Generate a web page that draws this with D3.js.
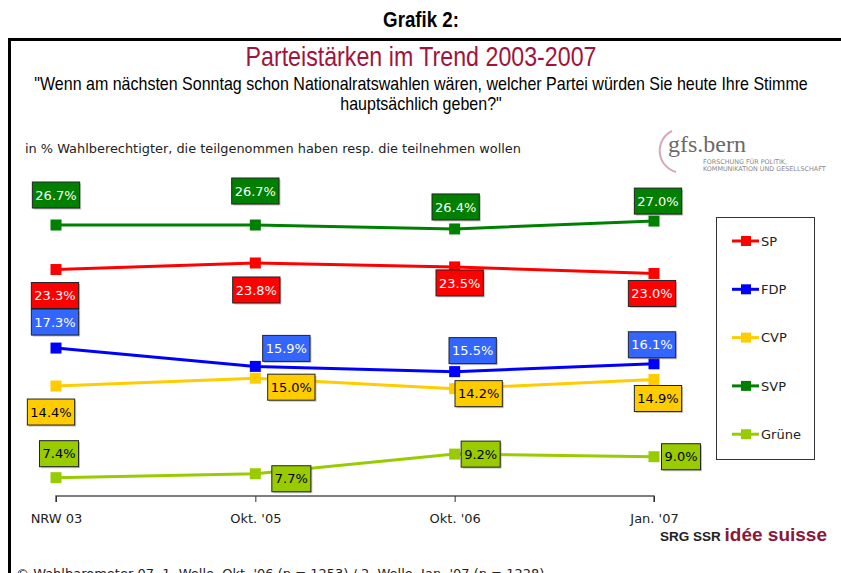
<!DOCTYPE html>
<html>
<head>
<meta charset="utf-8">
<script src="https://cdn.jsdelivr.net/npm/d3@7"></script>
<style>
  body { margin: 0; background: #fff; }
  svg { display: block; }
</style>
</head>
<body>
<div id="chart"></div>
<script>
var svgWidth = 841;
var svgHeight = 573;

// Data
var waves = ["NRW 03", "Okt. '05", "Okt. '06", "Jan. '07"];
var parties = ["SP", "FDP", "CVP", "SVP", "Grüne"];
var sp = [23.3, 23.8, 23.5, 23.0];
var fdp = [17.3, 15.9, 15.5, 16.1];
var cvp = [14.4, 15.0, 14.2, 14.9];
var svp = [26.7, 26.7, 26.4, 27.0];
var gruene = [7.4, 7.7, 9.2, 9.0];

var lineColors = ["#ff0000", "#0000ff", "#ffcc00", "#008000", "#99cc00"];
var boxColors = ["#ff0000", "#3366ff", "#ffcc00", "#007f00", "#99cc00"];
var textColors = ["#fff", "#fff", "#000", "#fff", "#000"];

// label offsets from each point (px)
var labelOffsets = [
  [[-1, 26], [1, 27], [5, 16], [-2, 20]],
  [[-1, -26], [31, -18], [18, -21], [-2, -19]],
  [[-5, 26], [36, 9], [24, 5], [4, 19]],
  [[0, -30], [0, -34], [1, -22], [4, -20]],
  [[3, -24], [36, 5], [26, 0], [27, 0]]
];

var series = [sp, fdp, cvp, svp, gruene].map(function(vals, i) {
  return { name: parties[i], values: vals, i: i };
});

var svg = d3.select("#chart")
  .append("svg")
  .attr("width", svgWidth)
  .attr("height", svgHeight);

// frame
svg.append("path")
  .attr("d", "M9.5,580 V39.5 H850")
  .attr("fill", "none")
  .attr("stroke", "#000")
  .attr("stroke-width", 3);

// narrow-ish headings: compress horizontally
svg.append("text")
  .attr("transform", "translate(421,27) scale(0.85,1)")
  .attr("text-anchor", "middle")
  .style("font-family", "'Liberation Sans', Arial")
  .style("font-weight", "bold")
  .style("font-size", "22px")
  .text("Grafik 2:");

svg.append("text")
  .attr("transform", "translate(421,66) scale(0.86,1)")
  .attr("text-anchor", "middle")
  .style("font-family", "'Liberation Sans', Arial")
  .style("font-size", "27px")
  .attr("fill", "#a0143c")
  .text("Parteistärken im Trend 2003-2007");

var sub = svg.append("text")
  .attr("transform", "translate(421,0) scale(0.9,1)")
  .attr("text-anchor", "middle")
  .style("font-family", "'Liberation Sans', Arial")
  .style("font-size", "17.8px");
sub.append("tspan").attr("x", 0).attr("y", 90)
  .text("\"Wenn am nächsten Sonntag schon Nationalratswahlen wären, welcher Partei würden Sie heute Ihre Stimme");
sub.append("tspan").attr("x", 0).attr("y", 110)
  .text("hauptsächlich geben?\"");

svg.append("text")
  .attr("x", 25).attr("y", 153)
  .style("font-family", "'DejaVu Sans', Verdana")
  .style("font-size", "12.9px")
  .attr("fill", "#222")
  .text("in % Wahlberechtigter, die teilgenommen haben resp. die teilnehmen wollen");

// gfs.bern logo
var logo = svg.append("g");
logo.append("path")
  .attr("d", "M672,131 A22,22 0 0 0 676,172")
  .attr("fill", "none")
  .attr("stroke", "#d8a8b8")
  .attr("stroke-width", 2);
logo.append("text")
  .attr("x", 668).attr("y", 152)
  .style("font-family", "'Liberation Serif', 'DejaVu Serif', serif")
  .style("font-size", "24px")
  .attr("fill", "#6a6a6a")
  .text("gfs.bern");
logo.append("text")
  .attr("x", 703).attr("y", 164)
  .style("font-family", "'DejaVu Sans', sans-serif")
  .style("font-size", "6.4px")
  .attr("fill", "#888")
  .text("FORSCHUNG FÜR POLITIK,");
logo.append("text")
  .attr("x", 703).attr("y", 171)
  .style("font-family", "'DejaVu Sans', sans-serif")
  .style("font-size", "6.4px")
  .attr("fill", "#888")
  .text("KOMMUNIKATION UND GESELLSCHAFT");

// Scales
var xScale = d3.scalePoint()
  .domain(waves)
  .range([56, 654]);

var yScale = d3.scaleLinear()
  .domain([6, 28])
  .range([496, 208]);

// axis
var xAxis = d3.axisBottom(xScale).tickSize(6).tickPadding(12);
var axisG = svg.append("g")
  .attr("transform", "translate(0,496)")
  .call(xAxis);
axisG.select(".domain")
  .attr("stroke", "#555")
  .attr("stroke-width", 1.5)
  .attr("d", "M56,6V0H654V6");
axisG.selectAll(".tick line").attr("stroke", "#333");
axisG.selectAll(".tick text")
  .style("font-family", "'DejaVu Sans', Verdana")
  .style("font-size", "13px")
  .attr("fill", "#222");

var line = d3.line()
  .x(function(d, j) { return xScale(waves[j]); })
  .y(function(d) { return yScale(d); });

var groups = svg.selectAll("g.series")
  .data(series)
  .enter()
  .append("g")
  .attr("class", "series");

groups.append("path")
  .attr("d", function(d) { return line(d.values); })
  .attr("fill", "none")
  .attr("stroke", function(d) { return lineColors[d.i]; })
  .attr("stroke-width", 3);

groups.selectAll("rect.marker")
  .data(function(d) { return d.values.map(function(v, j) { return { v: v, j: j, i: d.i }; }); })
  .enter()
  .append("rect")
  .attr("class", "marker")
  .attr("x", function(d) { return xScale(waves[d.j]) - 5.5; })
  .attr("y", function(d) { return yScale(d.v) - 5.5; })
  .attr("width", 11)
  .attr("height", 11)
  .attr("fill", function(d) { return lineColors[d.i]; });

// value labels
var labels = groups.selectAll("g.lab")
  .data(function(d) { return d.values.map(function(v, j) { return { v: v, j: j, i: d.i }; }); })
  .enter()
  .append("g")
  .attr("class", "lab")
  .attr("transform", function(d) {
    var off = labelOffsets[d.i][d.j];
    return "translate(" + (xScale(waves[d.j]) + off[0]) + "," + (yScale(d.v) + off[1]) + ")";
  });

labels.each(function(d) {
  var g = d3.select(this);
  var t = g.append("text")
    .attr("text-anchor", "middle")
    .attr("dy", "0.36em")
    .style("font-family", "'DejaVu Sans', Verdana")
    .style("font-size", "13px")
    .attr("fill", textColors[d.i])
    .text(d.v.toFixed(1) + "%");
  var w = t.node().getComputedTextLength() + 6;
  g.insert("rect", "text")
    .attr("x", -w / 2 + 1.5).attr("y", -11.5)
    .attr("width", w).attr("height", 26)
    .attr("fill", "#888").attr("opacity", 0.5);
  g.insert("rect", "text")
    .attr("x", -w / 2).attr("y", -13)
    .attr("width", w).attr("height", 26)
    .attr("fill", boxColors[d.i])
    .attr("stroke", "#222")
    .attr("stroke-width", 1);
});

// legend
var legend = svg.append("g");
legend.append("rect")
  .attr("x", 716.5).attr("y", 217.5)
  .attr("width", 98).attr("height", 242)
  .attr("fill", "#fff")
  .attr("stroke", "#333");

var legItems = legend.selectAll("g.item")
  .data(parties)
  .enter()
  .append("g")
  .attr("class", "item")
  .attr("transform", function(d, i) { return "translate(0," + (241 + i * 48.3) + ")"; });

legItems.append("line")
  .attr("x1", 732).attr("x2", 759)
  .attr("stroke", function(d, i) { return lineColors[i]; })
  .attr("stroke-width", 3);
legItems.append("rect")
  .attr("x", 741).attr("y", -5)
  .attr("width", 10).attr("height", 10)
  .attr("fill", function(d, i) { return lineColors[i]; });
legItems.append("text")
  .attr("x", 761).attr("dy", "0.36em")
  .style("font-family", "'DejaVu Sans', Verdana")
  .style("font-size", "13px")
  .attr("fill", "#222")
  .text(function(d) { return d; });

// SRG SSR logo
var srg = svg.append("text")
  .attr("x", 660).attr("y", 541)
  .style("font-family", "'Liberation Sans', Arial")
  .style("font-weight", "bold");
srg.append("tspan")
  .style("font-size", "13.5px")
  .attr("fill", "#222")
  .text("SRG SSR ");
srg.append("tspan")
  .style("font-size", "19px")
  .attr("fill", "#8b1838")
  .text("idée suisse");

// footer
svg.append("text")
  .attr("x", 16).attr("y", 578)
  .style("font-family", "'DejaVu Sans', Verdana")
  .style("font-size", "13px")
  .attr("fill", "#222")
  .text("© Wahlbarometer 07, 1. Welle, Okt. '06 (n = 1253) / 2. Welle, Jan. '07 (n = 1228)");
</script>
</body>
</html>
